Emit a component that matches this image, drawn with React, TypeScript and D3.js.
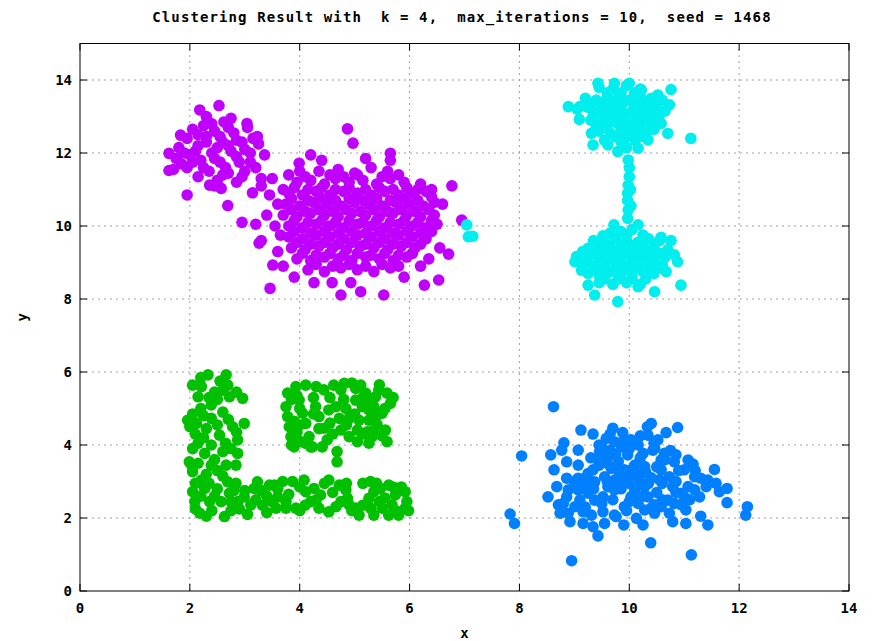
import React, { useEffect, useRef } from 'react'
import * as d3 from 'd3'

const W = 874
const H = 641
const M = { left: 80, right: 25, top: 43.5, bottom: 50 }

const TITLE = 'Clustering Result with  k = 4,  max_iterations = 10,  seed = 1468'
const xTicks = [0, 2, 4, 6, 8, 10, 12, 14]
const yTicks = [0, 2, 4, 6, 8, 10, 12, 14]

const clusterColors = ['#c000ff', '#00eeee', '#00c000', '#0080ff']

// cluster 1: two purple blobs (left small + big middle)
const purplePts = [
  [2.18, 13.18], [2.53, 13.3], [3.04, 12.81], [1.83, 12.49], [1.62, 11.99], [1.62, 11.52], [1.95, 10.85],
  [2.69, 10.56], [3.14, 10.91], [3.36, 11.95], [3.23, 12.45], [2.36, 11.12], [2.57, 11.03],
  [1.75, 11.85], [1.8, 12.15], [1.95, 11.6], [1.95, 12.4], [2.0, 11.95], [2.05, 12.65], [2.15, 11.35],
  [2.15, 12.2], [2.2, 11.8], [2.25, 12.75], [2.3, 12.45], [2.35, 11.5], [2.4, 12.0], [2.45, 12.6],
  [2.5, 11.25], [2.55, 11.75], [2.6, 12.3], [2.62, 12.85], [2.7, 11.45], [2.75, 12.05], [2.8, 12.55],
  [2.85, 11.2], [2.9, 11.75], [2.95, 12.3], [3.0, 11.5], [3.05, 12.7], [3.1, 12.0], [3.2, 11.6],
  [3.25, 12.25], [2.3, 13.0], [2.75, 12.95], [2.45, 11.1], [1.7, 11.55], [3.3, 11.3],
  [1.85, 11.7], [2.05, 11.75], [2.1, 12.05], [2.25, 11.6], [2.3, 12.3], [2.45, 11.85], [2.5, 12.15],
  [2.55, 12.45], [2.65, 11.6], [2.7, 12.2], [2.85, 11.9], [2.85, 12.35], [3.0, 12.1], [3.1, 11.75],
  [2.4, 12.8], [2.15, 12.5], [2.6, 11.4], [2.95, 11.35], [1.9, 12.0], [2.7, 12.7], [3.15, 12.4],
  [3.3, 11.1], [3.45, 10.85], [3.5, 11.3], [3.6, 10.6], [3.7, 11.0], [3.4, 10.3], [3.2, 10.05],
  [2.95, 10.1], [3.55, 10.0], [3.8, 11.4], [3.65, 9.75], [3.3, 9.6], [3.26, 9.53],
  [4.35, 11.5], [4.7, 11.55], [5.0, 11.45], [5.3, 11.6], [5.6, 11.5],
  [4.1, 11.35], [4.55, 11.4], [4.8, 11.35], [5.05, 11.4], [5.5, 11.35], [5.8, 11.4],
  [3.95, 11.2], [4.2, 11.25], [4.45, 11.15], [4.65, 11.3], [4.9, 11.2], [5.15, 11.25], [5.4, 11.15], [5.65, 11.3], [5.9, 11.2],
  [3.9, 11.05], [4.15, 11.0], [4.4, 11.05], [4.65, 11.0], [4.9, 11.05], [5.2, 11.0], [5.45, 11.05], [5.7, 11.0], [5.95, 11.05], [6.15, 11.0],
  [3.8, 10.9], [4.05, 10.85], [4.3, 10.95], [4.55, 10.85], [4.8, 10.95], [5.05, 10.9], [5.3, 10.85], [5.55, 10.95], [5.8, 10.85], [6.05, 10.9], [6.3, 10.95],
  [3.85, 10.75], [4.15, 10.7], [4.4, 10.75], [4.65, 10.7], [4.9, 10.75], [5.15, 10.7], [5.4, 10.75], [5.65, 10.7], [5.9, 10.75], [6.15, 10.7], [6.4, 10.8],
  [3.75, 10.6], [4.0, 10.55], [4.25, 10.65], [4.5, 10.6], [4.75, 10.55], [5.0, 10.65], [5.25, 10.6], [5.5, 10.55], [5.75, 10.65], [6.0, 10.6], [6.25, 10.55], [6.45, 10.65],
  [3.85, 10.45], [4.1, 10.4], [4.35, 10.45], [4.6, 10.4], [4.85, 10.45], [5.1, 10.4], [5.35, 10.45], [5.6, 10.4], [5.85, 10.45], [6.1, 10.4], [6.35, 10.45],
  [3.7, 10.3], [3.95, 10.25], [4.2, 10.35], [4.45, 10.3], [4.7, 10.25], [4.95, 10.35], [5.2, 10.3], [5.45, 10.25], [5.7, 10.35], [5.95, 10.3], [6.2, 10.25], [6.45, 10.3],
  [3.9, 10.15], [4.15, 10.1], [4.4, 10.15], [4.65, 10.1], [4.9, 10.15], [5.15, 10.1], [5.4, 10.15], [5.65, 10.1], [5.9, 10.15], [6.15, 10.1], [6.4, 10.15],
  [3.8, 10.0], [4.05, 9.95], [4.3, 10.05], [4.55, 10.0], [4.8, 9.95], [5.05, 10.05], [5.3, 10.0], [5.55, 9.95], [5.8, 10.05], [6.05, 10.0], [6.3, 9.95], [6.5, 10.05],
  [3.9, 9.85], [4.2, 9.8], [4.45, 9.85], [4.7, 9.8], [4.95, 9.85], [5.2, 9.8], [5.45, 9.85], [5.7, 9.8], [5.95, 9.85], [6.2, 9.8], [6.4, 9.85],
  [3.8, 9.7], [4.05, 9.65], [4.3, 9.75], [4.55, 9.7], [4.8, 9.65], [5.05, 9.75], [5.3, 9.7], [5.55, 9.65], [5.8, 9.75], [6.05, 9.7], [6.3, 9.65],
  [3.95, 9.55], [4.2, 9.5], [4.45, 9.55], [4.7, 9.5], [4.95, 9.55], [5.2, 9.5], [5.45, 9.55], [5.7, 9.5], [5.95, 9.55], [6.2, 9.5],
  [3.85, 9.4], [4.1, 9.35], [4.35, 9.45], [4.6, 9.4], [4.85, 9.35], [5.1, 9.45], [5.35, 9.4], [5.6, 9.35], [5.85, 9.45], [6.1, 9.4],
  [4.05, 9.25], [4.3, 9.2], [4.55, 9.25], [4.8, 9.2], [5.05, 9.25], [5.3, 9.2], [5.55, 9.25], [5.8, 9.2], [6.05, 9.25],
  [3.95, 9.1], [4.2, 9.05], [4.45, 9.15], [4.7, 9.1], [4.95, 9.05], [5.2, 9.15], [5.45, 9.1], [5.7, 9.05], [5.95, 9.15],
  [4.3, 8.95], [4.6, 8.9], [4.9, 8.95], [5.2, 8.9], [5.5, 8.95], [5.8, 8.9],
  [4.15, 8.8], [4.45, 8.75], [4.75, 8.85], [5.05, 8.8], [5.35, 8.75], [5.65, 8.85],
  [4.87, 12.66], [4.97, 12.27], [5.65, 11.99], [5.65, 11.8], [3.99, 11.72], [6.77, 11.1], [6.95, 10.16],
  [6.71, 9.23], [6.53, 8.52], [6.27, 8.38], [5.53, 8.11], [5.11, 8.2], [4.75, 8.11], [4.26, 8.45],
  [4.59, 8.45], [4.93, 8.45], [3.46, 8.29], [3.51, 8.93],
  [4.4, 11.8], [4.2, 11.95], [5.2, 11.85], [6.2, 11.15], [6.4, 11.0], [6.6, 10.6], [6.55, 9.4],
  [6.35, 9.1], [3.6, 9.3], [3.7, 8.9], [3.9, 8.6], [6.2, 8.9], [5.9, 8.6], [4.0, 11.5]
]

// cluster 2: cyan, two blobs joined by a thin stem
const cyanPts = [
  [8.89, 13.27], [9.1, 13.27], [9.09, 12.92], [9.43, 13.91], [9.73, 13.91], [10.0, 13.91], [10.22, 13.73],
  [10.52, 13.59], [10.76, 13.74], [10.73, 13.32], [10.58, 12.81], [10.7, 12.54], [11.12, 12.4],
  [9.31, 12.54], [9.34, 12.22], [9.61, 12.22], [9.79, 12.04], [10.16, 12.13], [10.34, 12.36], [10.31, 12.54],
  [9.45, 13.8], [9.7, 13.75], [9.95, 13.85], [10.2, 13.75], [9.6, 13.65], [9.85, 13.65], [10.1, 13.65],
  [9.2, 13.5], [9.4, 13.45], [9.6, 13.55], [9.8, 13.5], [10.0, 13.45], [10.2, 13.55], [10.4, 13.5], [10.6, 13.45],
  [9.3, 13.35], [9.5, 13.35], [9.7, 13.35], [9.9, 13.4], [10.1, 13.35], [10.3, 13.35], [10.5, 13.35],
  [9.05, 13.2], [9.25, 13.25], [9.45, 13.15], [9.65, 13.2], [9.85, 13.25], [10.05, 13.15], [10.25, 13.2], [10.45, 13.25], [10.65, 13.15],
  [9.35, 13.05], [9.55, 13.05], [9.75, 13.05], [9.95, 13.05], [10.15, 13.05], [10.35, 13.05], [10.55, 13.05],
  [9.3, 12.9], [9.5, 12.85], [9.7, 12.95], [9.9, 12.9], [10.1, 12.85], [10.3, 12.95], [10.5, 12.9],
  [9.4, 12.75], [9.6, 12.75], [9.8, 12.8], [10.0, 12.75], [10.2, 12.75], [10.4, 12.75],
  [9.45, 12.6], [9.65, 12.55], [9.85, 12.65], [10.05, 12.6], [10.25, 12.55], [10.45, 12.65],
  [9.75, 12.45], [9.95, 12.45], [10.2, 12.45], [9.95, 12.15],
  [9.55, 12.35], [9.85, 12.3], [10.1, 12.35],
  [9.98, 11.81], [10.0, 11.6], [10.0, 11.35], [9.98, 11.12], [9.97, 10.9], [9.97, 10.7], [9.98, 10.44],
  [9.97, 10.21], [10.02, 11.0], [10.03, 10.55],
  [9.72, 10.03], [10.16, 10.03], [9.52, 9.73], [10.58, 9.69], [10.76, 9.6], [9.25, 9.39], [9.04, 9.16],
  [9.01, 9.02], [9.13, 8.79], [10.82, 9.21], [10.88, 9.02], [10.67, 8.75], [10.94, 8.38], [9.25, 8.38],
  [9.37, 8.11], [9.79, 7.93], [10.46, 8.2], [10.16, 8.34],
  [9.85, 9.85], [10.05, 9.9], [9.95, 9.75], [9.65, 9.8], [10.25, 9.75],
  [9.35, 9.6], [9.55, 9.55], [9.75, 9.65], [9.95, 9.6], [10.15, 9.55], [10.35, 9.65], [10.55, 9.6],
  [9.45, 9.45], [9.65, 9.45], [9.85, 9.45], [10.05, 9.45], [10.25, 9.45], [10.45, 9.45],
  [9.15, 9.3], [9.35, 9.25], [9.55, 9.35], [9.75, 9.3], [9.95, 9.25], [10.15, 9.35], [10.35, 9.3], [10.55, 9.25], [10.7, 9.35],
  [9.25, 9.15], [9.45, 9.15], [9.65, 9.15], [9.85, 9.15], [10.05, 9.15], [10.25, 9.15], [10.45, 9.15], [10.65, 9.15],
  [9.2, 9.0], [9.4, 8.95], [9.6, 9.05], [9.8, 9.0], [10.0, 8.95], [10.2, 9.05], [10.4, 9.0], [10.6, 8.95],
  [9.35, 8.85], [9.55, 8.85], [9.75, 8.85], [9.95, 8.85], [10.15, 8.85], [10.35, 8.85], [10.55, 8.85],
  [9.25, 8.7], [9.45, 8.65], [9.65, 8.75], [9.85, 8.7], [10.05, 8.65], [10.25, 8.75], [10.45, 8.7],
  [9.55, 8.55], [9.8, 8.55], [10.05, 8.55], [10.3, 8.55],
  [9.45, 8.45], [9.7, 8.4], [9.95, 8.45], [10.2, 8.4],
  [7.04, 10.03], [7.07, 9.71], [7.15, 9.72]
]

// cluster 3: green, column + block + bottom row
const greenPts = [
  [2.33, 5.92], [2.66, 5.92], [2.05, 5.64], [2.21, 5.6], [2.69, 5.64], [2.72, 5.32], [2.96, 5.28],
  [2.15, 5.32], [2.39, 5.1], [1.96, 4.68], [2.12, 4.59], [2.39, 4.73], [2.78, 4.5], [2.99, 4.59],
  [2.54, 4.27], [2.87, 4.14], [2.15, 4.05], [2.39, 4.0], [2.27, 3.77], [2.6, 3.82], [2.87, 3.77],
  [1.99, 3.54], [2.05, 3.27], [2.66, 3.45], [2.84, 3.45], [2.39, 3.45], [2.21, 3.04], [2.69, 2.99],
  [2.05, 2.72], [2.27, 2.81], [2.84, 2.95], [2.09, 2.45], [2.36, 2.45], [2.57, 2.45], [2.72, 2.68],
  [2.87, 2.45], [2.18, 2.13], [2.63, 2.04], [2.99, 2.58], [3.17, 2.81], [3.11, 2.36], [3.23, 2.99],
  [2.45, 5.45], [2.55, 5.75], [2.3, 4.45], [2.45, 3.6], [2.3, 3.2], [2.5, 2.8], [2.4, 2.2],
  [2.75, 2.2], [2.6, 4.9], [2.2, 5.0], [2.05, 3.9], [2.1, 4.3], [2.03, 3.45], [2.5, 5.25],
  [2.2, 5.85], [2.6, 5.5], [2.85, 5.45], [2.35, 5.3], [2.05, 4.85], [2.25, 4.8], [2.7, 4.7],
  [2.5, 4.55], [2.85, 4.35], [2.65, 4.05], [2.0, 4.5], [2.25, 4.2], [2.75, 3.9], [2.5, 3.3],
  [2.15, 3.5], [2.6, 3.15], [2.35, 2.95], [2.1, 2.95], [2.8, 2.75], [2.2, 2.6], [2.45, 2.6],
  [2.75, 2.45], [2.3, 2.05], [2.9, 2.25], [2.1, 2.25], [3.0, 2.75],
  [3.32, 2.35], [3.4, 2.6], [3.45, 2.9], [3.54, 2.9], [3.69, 3.0], [3.87, 3.0], [4.08, 3.04],
  [3.6, 2.58], [3.57, 2.27], [3.75, 2.27], [3.93, 2.27], [4.11, 2.72], [4.2, 2.45], [4.35, 2.27],
  [4.53, 2.17], [4.66, 2.31], [4.26, 2.81], [4.38, 2.63], [4.53, 3.04], [4.72, 2.9], [4.84, 2.77],
  [4.87, 2.54], [4.9, 2.36], [5.02, 2.27], [5.08, 2.08], [5.29, 3.0], [5.35, 2.72], [5.26, 2.54],
  [5.29, 2.27], [5.35, 2.08], [5.47, 2.81], [5.62, 2.9], [5.74, 2.63], [5.92, 2.72], [5.68, 2.36],
  [5.92, 2.27], [5.5, 2.27], [5.62, 2.08], [5.8, 2.08], [5.98, 2.2], [3.05, 2.1], [3.8, 2.65],
  [5.55, 2.55], [5.85, 2.85], [4.0, 2.2],
  [3.3, 2.75], [3.5, 2.45], [3.6, 2.8], [3.75, 2.45], [4.0, 2.85], [4.1, 2.35], [4.3, 2.5],
  [4.45, 2.95], [4.6, 2.7], [4.75, 2.45], [4.95, 2.2], [5.15, 2.35], [5.15, 2.95], [5.45, 2.45],
  [5.75, 2.2], [5.95, 2.45], [5.7, 2.85], [5.4, 2.95], [3.4, 2.15], [3.2, 2.5], [4.85, 2.95],
  [3.78, 5.42], [3.93, 5.6], [4.11, 5.64], [3.75, 5.05], [3.78, 4.78], [3.81, 4.5], [3.84, 4.23],
  [3.9, 3.95], [3.99, 5.23], [4.05, 4.87], [4.11, 4.59], [4.17, 4.23], [4.2, 3.95], [4.29, 5.05],
  [4.35, 4.78], [4.44, 4.46], [4.53, 4.96], [4.5, 4.14], [4.44, 5.51], [4.62, 5.64], [4.75, 5.51],
  [4.81, 5.69], [4.66, 5.05], [4.72, 4.73], [4.75, 4.41], [4.68, 3.82], [4.9, 4.23], [4.9, 4.73],
  [4.84, 5.0], [5.02, 5.55], [5.11, 5.64], [5.2, 5.42], [5.02, 5.23], [5.14, 5.05], [5.08, 4.68],
  [5.05, 4.41], [5.05, 4.09], [5.26, 4.96], [5.26, 4.68], [5.23, 4.36], [5.26, 4.05], [5.32, 4.23],
  [5.44, 5.51], [5.59, 5.42], [5.65, 5.14], [5.5, 4.87], [5.41, 4.55], [5.56, 4.41], [5.59, 4.09],
  [5.26, 5.23], [5.38, 5.32], [4.68, 3.54], [4.23, 3.95], [4.41, 3.95], [3.95, 5.35], [4.0, 4.55],
  [3.85, 5.25], [4.0, 5.0], [3.9, 4.65], [3.95, 4.35], [4.1, 4.05], [4.25, 4.85], [4.25, 5.3],
  [4.35, 4.45], [4.55, 4.6], [4.6, 4.3], [4.55, 5.3], [4.8, 5.25], [4.85, 4.55], [5.0, 4.85],
  [5.15, 4.3], [5.15, 5.3], [5.35, 5.05], [5.4, 4.8], [5.35, 4.4], [5.5, 4.25], [5.55, 5.0],
  [5.7, 5.3], [5.45, 5.65], [4.95, 5.7], [4.3, 5.6], [4.0, 4.1], [3.85, 4.0]
]

// cluster 4: blue, loose blob lower right
const bluePts = [
  [8.62, 5.05], [8.04, 3.7], [7.83, 2.11], [7.91, 1.85], [8.95, 0.83], [11.13, 0.99], [10.39, 1.32],
  [9.43, 1.51], [12.15, 2.31], [12.12, 2.08], [11.78, 2.81], [11.78, 2.42], [11.55, 3.33], [10.88, 4.48],
  [10.4, 4.59], [10.33, 4.5], [10.67, 4.34], [9.12, 4.41], [9.34, 4.3], [9.7, 4.46], [9.88, 4.34],
  [8.81, 4.06], [8.57, 3.73], [8.63, 3.32], [8.52, 2.58], [8.71, 2.36], [8.74, 2.13], [8.92, 1.9],
  [9.16, 1.85], [9.34, 1.76], [9.55, 1.85], [9.76, 2.04], [9.9, 1.81], [10.13, 1.99], [10.25, 1.81],
  [10.46, 2.13], [10.46, 2.36], [10.79, 1.9], [10.73, 2.13], [11.03, 1.85], [11.03, 2.22], [11.3, 2.05],
  [11.43, 1.81], [11.16, 3.48], [11.58, 2.95], [11.64, 2.72], [11.4, 2.86], [11.3, 3.09], [11.0, 3.32],
  [11.07, 2.86], [10.95, 2.68], [11.0, 2.58], [10.85, 3.73], [10.64, 3.77], [10.46, 3.91], [10.52, 4.14],
  [10.25, 3.77], [10.28, 3.41], [10.58, 3.32], [10.73, 3.13], [10.79, 2.86], [10.7, 2.49], [10.58, 2.31],
  [10.1, 2.77], [10.28, 2.86], [10.34, 2.58], [10.16, 2.4], [10.03, 2.58], [9.86, 2.95], [9.73, 2.77],
  [9.91, 3.32], [10.03, 3.13], [10.1, 3.45], [9.97, 3.73], [9.86, 3.95], [9.73, 4.09], [9.58, 4.18],
  [9.46, 3.82], [9.43, 3.59], [9.34, 3.32], [9.61, 3.68], [9.67, 3.36], [9.55, 3.13], [9.73, 3.04],
  [9.61, 2.86], [9.52, 2.58], [9.37, 2.49], [9.25, 2.68], [9.19, 2.9], [9.07, 2.77], [9.1, 2.49],
  [9.01, 2.31], [8.89, 2.13], [9.16, 2.17], [9.31, 2.08], [9.52, 2.17], [9.73, 2.08], [9.07, 3.45],
  [8.86, 3.09], [8.68, 2.86], [8.89, 2.77], [8.86, 2.58], [9.07, 3.09], [9.25, 3.22], [9.37, 2.99],
  [9.07, 3.86], [8.77, 3.86], [8.86, 3.54], [10.34, 4.27], [10.43, 3.86], [10.58, 3.59], [10.82, 3.54],
  [11.19, 3.13], [11.07, 3.59], [11.43, 3.04], [10.16, 4.0], [10.03, 4.14], [9.91, 4.14], [9.91, 2.31],
  [10.1, 2.49], [10.4, 2.27], [10.28, 2.22], [10.82, 2.4], [10.95, 2.36], [11.28, 2.58], [11.19, 2.77],
  [9.8, 3.55], [10.0, 3.9], [9.5, 3.95], [10.4, 3.1], [10.2, 3.0], [9.85, 3.15], [9.65, 3.85],
  [10.5, 2.7], [9.95, 2.2], [10.6, 2.95], [9.3, 3.65], [10.2, 3.65],
  [9.45, 3.45], [9.6, 3.5], [9.8, 3.3], [10.0, 3.3], [10.15, 3.2], [10.3, 3.25], [10.5, 3.4],
  [10.65, 3.6], [9.75, 3.75], [9.6, 3.0], [9.85, 2.8], [10.0, 2.95], [10.35, 2.95], [10.55, 3.05],
  [10.85, 3.0], [10.9, 3.3], [9.2, 3.1], [9.35, 2.8], [9.5, 2.4], [9.7, 2.5], [10.0, 2.45],
  [10.25, 2.6], [10.6, 2.5], [10.85, 2.7], [11.1, 2.5], [11.2, 3.3], [9.45, 4.0], [9.65, 4.3],
  [10.2, 4.25], [10.45, 4.05], [10.75, 3.85], [9.0, 3.0], [8.8, 2.4], [9.2, 2.3]
]

const clusters = [purplePts, cyanPts, greenPts, bluePts]

const FONT = '"DejaVu Sans Mono", monospace'

const App = () => {
  const ref = useRef<SVGSVGElement | null>(null)

  useEffect(() => {
    const svg = d3.select(ref.current)
    svg.selectAll('*').remove()

    const x = d3.scaleLinear().domain([0, 14]).range([M.left, W - M.right])
    const y = d3.scaleLinear().domain([0, 15]).range([H - M.bottom, M.top])
    const x0 = M.left
    const x1 = W - M.right
    const yb = H - M.bottom
    const yt = M.top

    // grid
    const grid = svg.append('g').attr('stroke', '#a0a0a0').attr('stroke-dasharray', '2,4').attr('stroke-width', 1)
    xTicks.filter(t => t > 0 && t < 14).forEach(t => {
      grid.append('line').attr('x1', x(t)).attr('x2', x(t)).attr('y1', yb).attr('y2', yt)
    })
    yTicks.filter(t => t > 0).forEach(t => {
      grid.append('line').attr('x1', x0).attr('x2', x1).attr('y1', y(t)).attr('y2', y(t))
    })

    // points
    clusters.forEach((pts, i) => {
      svg
        .append('g')
        .selectAll('circle')
        .data(pts)
        .enter()
        .append('circle')
        .attr('cx', d => x(d[0]))
        .attr('cy', d => y(d[1]))
        .attr('r', 5.8)
        .attr('fill', clusterColors[i])
    })

    // frame + ticks (mirrored, inward)
    const ax = svg.append('g').attr('stroke', '#000').attr('stroke-width', 1)
    ax.append('rect')
      .attr('x', x0)
      .attr('y', yt)
      .attr('width', x1 - x0)
      .attr('height', yb - yt)
      .attr('fill', 'none')
    xTicks.forEach(t => {
      ax.append('line').attr('x1', x(t)).attr('x2', x(t)).attr('y1', yb).attr('y2', yb - 7)
      ax.append('line').attr('x1', x(t)).attr('x2', x(t)).attr('y1', yt).attr('y2', yt + 7)
    })
    yTicks.forEach(t => {
      ax.append('line').attr('x1', x0).attr('x2', x0 + 7).attr('y1', y(t)).attr('y2', y(t))
      ax.append('line').attr('x1', x1).attr('x2', x1 - 7).attr('y1', y(t)).attr('y2', y(t))
    })

    const txt = svg.append('g').attr('font-family', FONT).attr('font-weight', 'bold').attr('fill', '#000')
    xTicks.forEach(t => {
      txt.append('text').attr('x', x(t)).attr('y', yb + 22).attr('text-anchor', 'middle')
        .attr('font-size', 14).text(t)
    })
    yTicks.forEach(t => {
      txt.append('text').attr('x', x0 - 8).attr('y', y(t) + 5).attr('text-anchor', 'end')
        .attr('font-size', 14).text(t)
    })
    txt.append('text').attr('x', (x0 + x1) / 2).attr('y', 638).attr('text-anchor', 'middle')
      .attr('font-size', 14).text('x')
    txt.append('text').attr('transform', `translate(27,${(yt + yb) / 2}) rotate(-90)`)
      .attr('text-anchor', 'middle').attr('font-size', 14).text('y')
    txt.append('text').attr('x', 462).attr('y', 22).attr('text-anchor', 'middle')
      .attr('font-size', 14).attr('letter-spacing', 1.1).style('white-space', 'pre').text(TITLE)
  })

  return (
    <div style={{ position: 'absolute', left: 0, top: 0 }}>
      <svg ref={ref} width={W} height={H} style={{ display: 'block', background: '#fff' }} />
    </div>
  )
}

export default App
